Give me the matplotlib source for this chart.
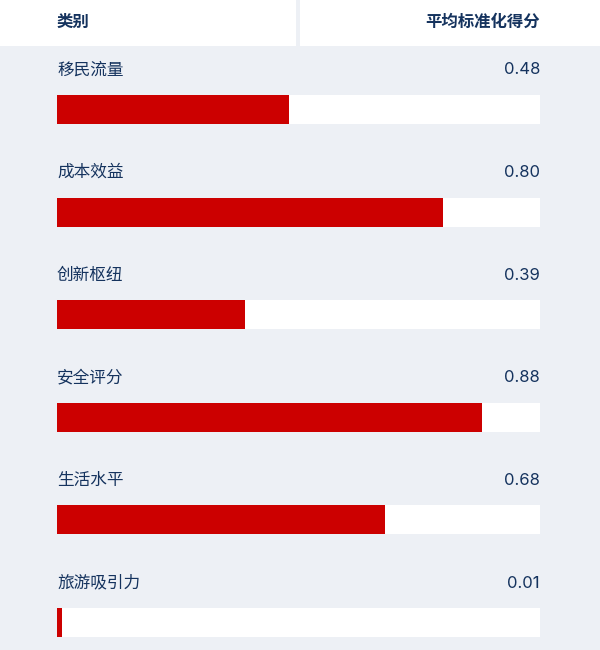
import matplotlib
matplotlib.use("Agg")
import matplotlib.pyplot as plt
from matplotlib.patches import Rectangle

plt.rcParams['font.family'] = ['Noto Sans CJK SC', 'DejaVu Sans']

categories = ["移民流量", "成本效益", "创新枢纽", "安全评分", "生活水平", "旅游吸引力"]
values = [0.48, 0.80, 0.39, 0.88, 0.68, 0.01]
value_labels = ["0.48", "0.80", "0.39", "0.88", "0.68", "0.01"]
header_left = "类别"
header_right = "平均标准化得分"

W, H = 600, 650
BG = "#EDF0F5"
RED = "#CC0000"
TXT = "#15335E"

fig = plt.figure(figsize=(W / 100, H / 100), dpi=100)
fig.patch.set_facecolor(BG)

# header
fig.patches.append(Rectangle((0, 1 - 46 / H), 296 / W, 46 / H, transform=fig.transFigure,
                             facecolor="white", edgecolor="none", zorder=0))
fig.patches.append(Rectangle((300 / W, 1 - 46 / H), 300 / W, 46 / H, transform=fig.transFigure,
                             facecolor="white", edgecolor="none", zorder=0))

ax = fig.add_axes([0, 0, 1, 1])
ax.set_facecolor("none")
x0, x1 = 57, 540
span = x1 - x0
ax.set_xlim(-x0 / span, 1 + (W - x1) / span)
pitch = 102.6
c0 = 109.5
ax.set_ylim((H - c0) / pitch, -c0 / pitch)
ax.axis("off")

bh = 29 / pitch
n = len(categories)
ys = list(range(n))
ax.barh(ys, [1.0] * n, height=bh, left=0, color="white", zorder=1)
ax.barh(ys, values, height=bh, left=0, color=RED, zorder=2)

for i, (c, lab) in enumerate(zip(categories, value_labels)):
    ty = i - 39.5 / pitch
    ax.text(0, ty, c, ha="left", va="center", fontsize=12, color=TXT)
    ax.text(1, ty, lab, ha="right", va="center", fontsize=12, color=TXT,
            family=['Inter', 'Noto Sans CJK SC'])

fig.text(x0 / W, 1 - 22 / H, header_left, ha="left", va="center", fontsize=11.8,
         fontweight="bold", color=TXT)
fig.text(x1 / W, 1 - 22 / H, header_right, ha="right", va="center", fontsize=11.8,
         fontweight="bold", color=TXT)

fig.savefig("out.png", dpi=100, facecolor=BG)
